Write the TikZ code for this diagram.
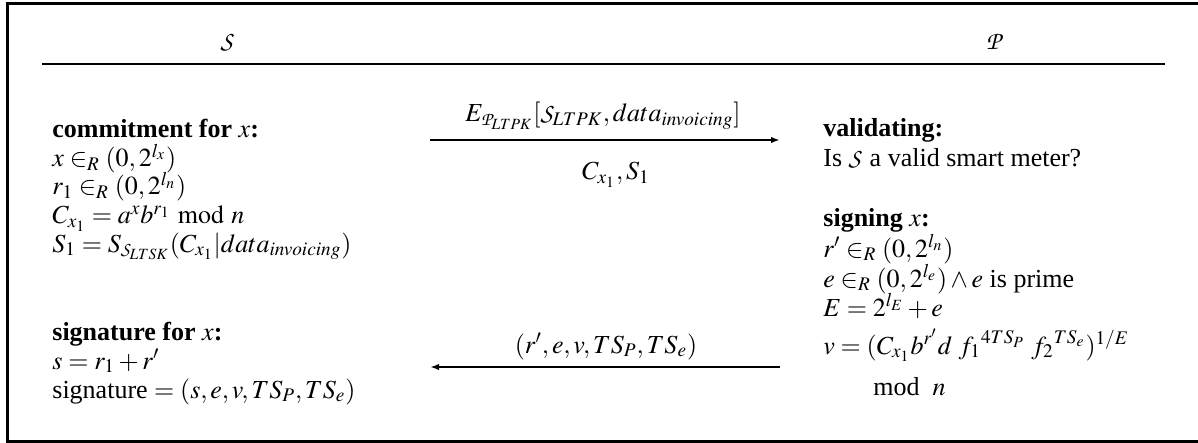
\documentclass[tikz,border=0pt]{standalone}
\usepackage{mathptmx}
\usepackage[no-math]{fontspec}
\setmainfont{Liberation Serif}
\DeclareMathAlphabet{\mathcal}{OT1}{pzc}{m}{it}
\usetikzlibrary{arrows.meta}
\tikzset{
  frame/.style={line width=1.5pt},
  rule/.style={line width=1pt},
  msg/.style={line width=1.1pt,-{Latex[length=4.5pt,width=3.2pt]}},
  txt/.style={inner sep=0pt,anchor=base west,font=\fontsize{13}{15}\selectfont},
  lbl/.style={inner sep=0pt,anchor=base,font=\fontsize{13}{15}\selectfont},
}
\begin{document}
\begin{tikzpicture}[x=0.5pt,y=-0.5pt]
\useasboundingbox (0,0) rectangle (1198,443);
% frame (right side cut off)
\draw[frame] (1199,4) -- (7,4) -- (7,441) -- (1199,441);
% header
\node[lbl] (hs) at (228,50) {$\mathcal{S}$};
\node[lbl] (hp) at (995,50) {$\mathcal{P}$};
\coordinate (rl) at (42,64);
\coordinate (rr) at (1165,64);
\draw[rule] (rl) -- (rr);
% left: commitment
\node[txt] (c0) at (52,138)   {\textbf{commitment for $x$:}};
\node[txt] (c1) at (52,166.5) {$x \in_R (0,2^{l_x})$};
\node[txt] (c2) at (52,195)   {$r_1 \in_R (0,2^{l_n})$};
\node[txt] (c3) at (52,223.5) {$C_{x_1} = a^x b^{r_1} \bmod n$};
\node[txt] (c4) at (52,252)   {$S_1 = S_{\mathcal{S}_{LTSK}}(C_{x_1}|data_{invoicing})$};
% left: signature
\node[txt] (s0) at (52,340)   {\textbf{signature for $x$:}};
\node[txt] (s1) at (52,369)   {$s = r_1 + r'$};
\node[txt] (s2) at (52,398)   {signature $= (s,e,v,TS_P,TS_e)$};
% right: validating
\node[txt] (v0) at (823,137)   {\textbf{validating:}};
\node[txt] (v1) at (823,167)   {Is $\mathcal{S}$ a valid smart meter?};
% right: signing
\node[txt] (g0) at (823,227)   {\textbf{signing $x$:}};
\node[txt] (g1) at (823,257)   {$r' \in_R (0,2^{l_n})$};
\node[txt] (g2) at (823,287)   {$e \in_R (0,2^{l_e}) \wedge e$ is prime};
\node[txt] (g3) at (823,316)   {$E = 2^{l_E} + e$};
\node[txt] (g4) at (823,354)   {$v = (C_{x_1} b^{r'} d\ {f_1}^{4TS_P}\ {f_2}^{TS_e})^{1/E}$};
\node[txt] (g5) at (873,395)   {mod\ \ $n$};
% messages
\coordinate (m1s) at (430,140);
\coordinate (m1e) at (780,140);
\draw[msg] (m1s) -- (m1e);
\node[lbl] (m1a) at (603,122) {$E_{\mathcal{P}_{LTPK}}[\mathcal{S}_{LTPK}, data_{invoicing}]$};
\node[lbl] (m1b) at (616,180) {$C_{x_1}, S_1$};
\coordinate (m2s) at (780,367);
\coordinate (m2e) at (430,367);
\draw[msg] (m2s) -- (m2e);
\node[lbl] (m2a) at (606,353) {$(r', e, v, TS_P, TS_e)$};
\end{tikzpicture}
\end{document}
